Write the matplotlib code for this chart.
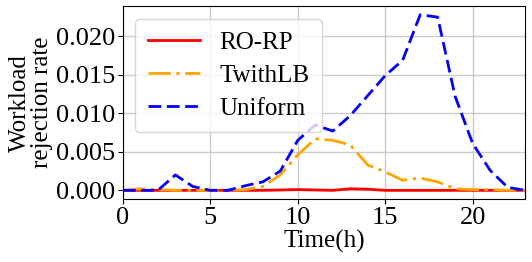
import numpy as np
import matplotlib
matplotlib.use("Agg")
import matplotlib.pyplot as plt
from matplotlib.ticker import StrMethodFormatter

plt.rcParams['font.family'] = ['Liberation Serif', 'DejaVu Serif']
plt.rcParams['mathtext.fontset'] = 'stix'

# hourly values
hours = list(range(24))
ro_rp = [0, 0, 0, 0, 0, 0, 0, 0, 0, 0.00005, 0.0001, 0.00005, 0.0, 0.0002,
         0.00015, 0.0, 0, 0, 0, 0, 0, 0, 0, 0]
twithlb = [0, 0.0002, 0.0001, 0, 0, 0, 0, 0.0001, 0.0005, 0.002, 0.0046, 0.0067,
           0.0065, 0.0059, 0.0033, 0.0024, 0.0013, 0.0016, 0.0011, 0.0002,
           0.0001, 0.0001, 0, 0]
uniform = [0, 0, 0, 0.002, 0.0005, 0, 0, 0.0006, 0.0011, 0.0025, 0.0065, 0.0085,
           0.0077, 0.0097, 0.0123, 0.0149, 0.0169, 0.0228, 0.0225, 0.0122,
           0.0061, 0.0026, 0.0004, 0]

fig = plt.figure(figsize=(5.32, 2.62), dpi=100)
ax = fig.add_axes([0.231, 0.24, 0.756, 0.737])

ax.plot(hours, ro_rp, color='red', lw=2, label='RO-RP')
ax.plot(hours, twithlb, color='orange', lw=2, dashes=(8, 2, 1.25, 2), label='TwithLB')
ax.plot(hours, uniform, color='blue', lw=2, dashes=(4.6, 2.0), label='Uniform')

ax.set_xlim(0, 23)
ax.set_xticks([0, 5, 10, 15, 20])
ax.set_yticks([0, 0.005, 0.010, 0.015, 0.020])
ax.yaxis.set_major_formatter(StrMethodFormatter('{x:.3f}'))
ax.tick_params(labelsize=19, pad=2)
ax.grid(True, color='#cccccc', lw=1)
ax.set_axisbelow(True)

ax.set_xlabel('Time(h)', fontsize=18, labelpad=1)
ax.set_ylabel('Workload\nrejection rate', fontsize=18, linespacing=1.0, labelpad=2)

ax.legend(loc='upper left', fontsize=18, handlelength=2.1, handletextpad=0.75,
          borderpad=0.5, labelspacing=0.42)

fig.savefig('out.png', dpi=100)
